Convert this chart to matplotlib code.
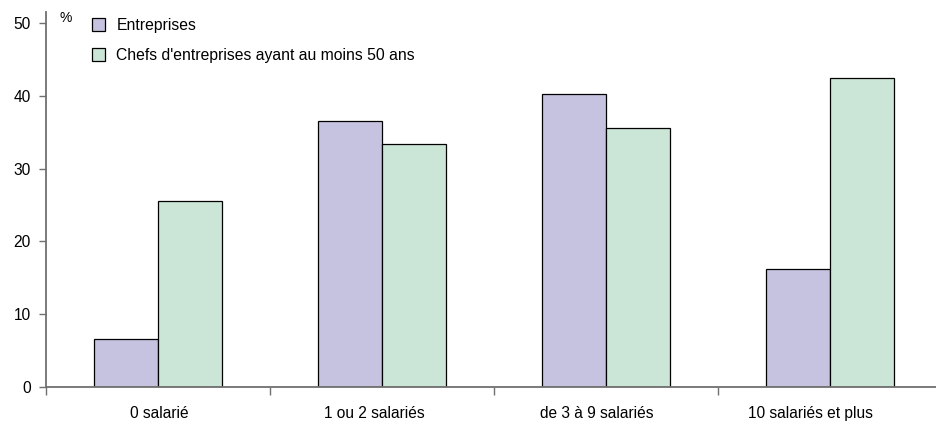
import numpy as np
import matplotlib
matplotlib.use("Agg")
import matplotlib.pyplot as plt
from matplotlib.transforms import ScaledTranslation

plt.rcParams['font.family'] = ['Liberation Sans', 'DejaVu Sans']

# Répartition par taille d'entreprise (%)
categories = ['0 salarié', '1 ou 2 salariés', 'de 3 à 9 salariés', '10 salariés et plus']
entreprises = [6.6, 36.5, 40.2, 16.2]
chefs_50_ans = [25.5, 33.4, 35.6, 42.4]
series_labels = ['Entreprises', "Chefs d'entreprises ayant au moins 50 ans"]
y_ticks = [0, 10, 20, 30, 40, 50]

# horizontal nudge (pixels) of each category label
label_shift_px = [1, -8, -9, -20]

W, H = 936, 421
fig = plt.figure(figsize=(W / 100, H / 100), dpi=100)
ax = fig.add_axes([46 / W, 1 - 387 / H, (936 - 46) / W, (387 - 12) / H])

x = np.arange(len(categories))
width = 0.2857
b1 = ax.bar(x - width / 2, entreprises, width, color='#c6c3e0',
            edgecolor='black', linewidth=0.9)
b2 = ax.bar(x + width / 2, chefs_50_ans, width, color='#cbe6d6',
            edgecolor='black', linewidth=0.9)

ax.set_xlim(-0.5, 3.5 - 6 / 224)
ax.set_ylim(0, 51.5)

for side in ['top', 'right']:
    ax.spines[side].set_visible(False)
for side in ['left', 'bottom']:
    ax.spines[side].set_color('#707070')
    ax.spines[side].set_linewidth(1.3)

ax.set_yticks(y_ticks)
ax.tick_params(axis='y', length=5, width=1, color='#707070', labelsize=11.2, pad=6)

# category labels centred, boundary ticks between groups
ax.set_xticks(x)
ax.set_xticklabels(categories)
ax.set_xticks(np.arange(len(categories)) - 0.5, minor=True)
ax.tick_params(axis='x', which='major', length=0, labelsize=11.2, pad=14)
ax.tick_params(axis='x', which='minor', length=6, width=1, color='#707070', direction='out')
for lbl, dx in zip(ax.get_xticklabels(), label_shift_px):
    lbl.set_transform(lbl.get_transform() + ScaledTranslation(dx / 100, 0, fig.dpi_scale_trans))

fig.text(60 / W, 1 - 22 / H, '%', fontsize=10)

fig.legend([b1, b2], series_labels, loc='upper left',
           bbox_to_anchor=(92 / W, 1 - 18 / H), frameon=False, fontsize=11.3,
           borderpad=0, handlelength=0.85, handleheight=0.85,
           handletextpad=0.7, labelspacing=0.95, borderaxespad=0)

fig.savefig('out.png', dpi=100)
